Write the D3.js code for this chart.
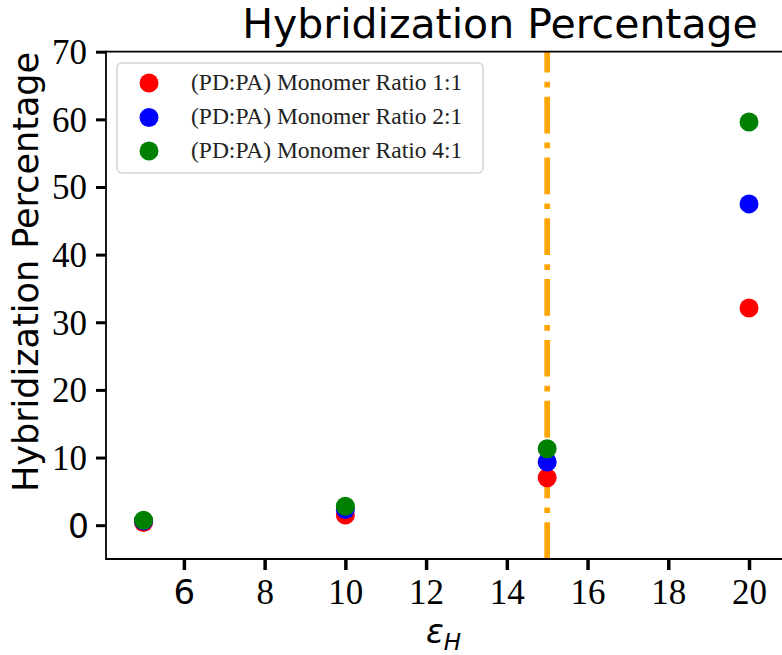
<!DOCTYPE html>
<html>
<head>
<meta charset="utf-8">
<script src="https://cdn.jsdelivr.net/npm/d3@7"></script>
<style>
  html, body { margin: 0; padding: 0; background: #fff; }
  svg { display: block; }
</style>
</head>
<body>
<svg id="chart" width="782" height="655"></svg>
<script>
// ---- data ----
const epsilonH = [5, 10, 15, 20];
const ratio11 = [0.4, 1.5, 7.0, 32.1];
const ratio21 = [0.6, 2.3, 9.35, 47.5];
const ratio41 = [0.74, 2.8, 11.3, 59.6];
const seriesNames = ["(PD:PA) Monomer Ratio 1:1", "(PD:PA) Monomer Ratio 2:1", "(PD:PA) Monomer Ratio 4:1"];
const seriesColors = ["#ff0000", "#0000ff", "#008000"];
const xTicks = [6, 8, 10, 12, 14, 16, 18, 20];
const yTicks = [0, 10, 20, 30, 40, 50, 60, 70];
const thresholdX = 15;
const titleText = "Hybridization Percentage";
const yLabelText = "Hybridization Percentage";

const svg = d3.select("#chart");
const pLeft = 106, pTop = 51.7, pBottom = 559, pRight = 781.3;

const x = d3.scaleLinear().domain([4.07, 20.8]).range([pLeft, pRight]);
const y = d3.scaleLinear().domain([-5, 70]).range([pBottom, pTop]);

const serif = "'Liberation Serif', 'Times New Roman', serif";
const sans = "'DejaVu Sans', sans-serif";

// vertical threshold line (drawn bottom to top like matplotlib)
svg.append("line")
  .attr("x1", x(thresholdX)).attr("x2", x(thresholdX))
  .attr("y1", y.range()[0]).attr("y2", y.range()[1])
  .attr("stroke", "#ffa500").attr("stroke-width", 5.7)
  .attr("stroke-dasharray", "36.7 9.2 5.7 9.2");

// points
const allSeries = [ratio11, ratio21, ratio41];
allSeries.forEach((vals, i) => {
  svg.append("g").selectAll("circle")
    .data(vals.map((v, j) => ({x: epsilonH[j], y: v})))
    .join("circle")
    .attr("cx", d => x(d.x)).attr("cy", d => y(d.y))
    .attr("r", 9.5).attr("fill", seriesColors[i]);
});

// spines (left, bottom, top)
svg.append("line").attr("x1", pLeft).attr("x2", 782).attr("y1", pTop).attr("y2", pTop)
  .attr("stroke", "#000").attr("stroke-width", 1.8);
svg.append("line").attr("x1", pLeft).attr("x2", 782).attr("y1", pBottom).attr("y2", pBottom)
  .attr("stroke", "#000").attr("stroke-width", 1.8);
svg.append("line").attr("x1", pLeft).attr("x2", pLeft).attr("y1", pTop - 0.9).attr("y2", pBottom + 0.9)
  .attr("stroke", "#000").attr("stroke-width", 1.8);

// x axis
const xAxis = d3.axisBottom(x).tickValues(xTicks).tickSize(11).tickPadding(0).tickFormat("");
const gx = svg.append("g").attr("transform", `translate(0,${pBottom})`).call(xAxis);
gx.select(".domain").remove();
gx.selectAll(".tick line").attr("stroke", "#000").attr("stroke-width", 3.5);
gx.selectAll(".tick").append("text")
  .attr("y", 604 - pBottom)
  .attr("text-anchor", "middle")
  .attr("fill", "#000")
  .style("font-family", (d, i) => i === 0 ? sans : serif)
  .style("font-size", (d, i) => i === 0 ? "34px" : "35px")
  .text(d => d);

// y axis
const yAxis = d3.axisLeft(y).tickValues(yTicks).tickSize(10).tickPadding(0).tickFormat("");
const gy = svg.append("g").attr("transform", `translate(${pLeft},0)`).call(yAxis);
gy.select(".domain").remove();
gy.selectAll(".tick line").attr("stroke", "#000").attr("stroke-width", 3);
gy.selectAll(".tick").append("text")
  .attr("x", (d, i) => i === 0 ? -17 : -19)
  .attr("y", 12)
  .attr("text-anchor", "end")
  .attr("fill", "#000")
  .style("font-family", (d, i) => i === 0 ? sans : serif)
  .style("font-size", (d, i) => i === 0 ? "33px" : "35px")
  .text(d => d);

// title
svg.append("text").attr("x", 500).attr("y", 38).attr("text-anchor", "middle")
  .style("font-family", sans).style("font-size", "41px").attr("fill", "#000")
  .text(titleText);

// y label
svg.append("text").attr("transform", "translate(38,272) rotate(-90)")
  .attr("text-anchor", "middle")
  .style("font-family", sans).style("font-size", "35px").attr("fill", "#000")
  .text(yLabelText);

// x label  ε_H
const xl = svg.append("text").attr("x", 426).attr("y", 643)
  .style("font-family", sans).style("font-style", "italic").style("font-size", "33px").attr("fill", "#000");
xl.append("tspan").text("ε");
xl.append("tspan").attr("dy", 7).style("font-size", "23px").text("H");

// legend
const lg = svg.append("g");
lg.append("rect").attr("x", 117).attr("y", 63).attr("width", 366).attr("height", 110)
  .attr("rx", 5).attr("fill", "#fff").attr("fill-opacity", 0.8)
  .attr("stroke", "#d3d3d3").attr("stroke-width", 1.5);
const rowsY = [83, 117.5, 151];
seriesNames.forEach((name, i) => {
  lg.append("circle").attr("cx", 149).attr("cy", rowsY[i]).attr("r", 9.5).attr("fill", seriesColors[i]);
  lg.append("text").attr("x", 191).attr("y", rowsY[i] + 6.5)
    .style("font-family", serif).style("font-size", "23.5px").attr("fill", "#222")
    .text(name);
});
</script>
</body>
</html>
